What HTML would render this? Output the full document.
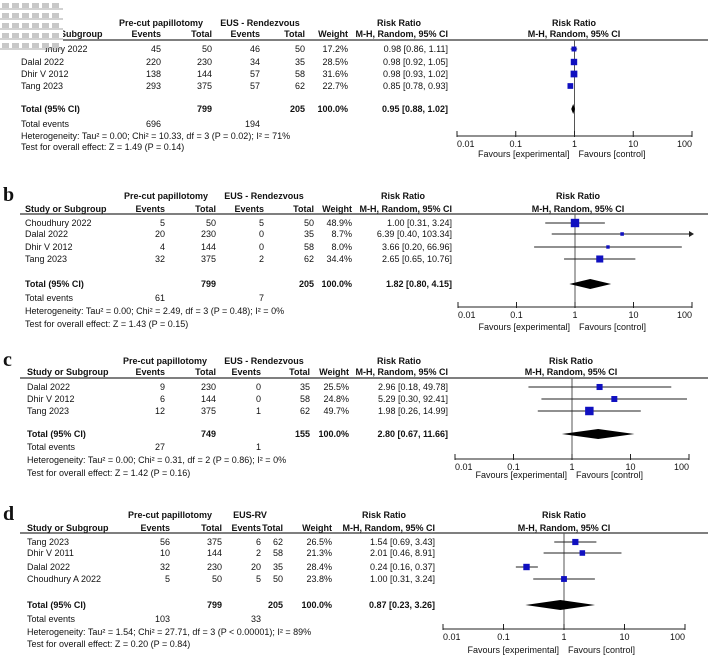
<!DOCTYPE html>
<html><head><meta charset="utf-8"><style>
html,body{margin:0;padding:0;background:#fff;}
svg{display:block;}
text{font-family:"Liberation Sans",Arial,sans-serif;font-size:9px;fill:#111;}
.lbl{font-family:"Liberation Serif",serif;font-size:20px;font-weight:bold;}
</style></head><body>
<svg id="chart" width="708" height="663" viewBox="0 0 708 663" xmlns="http://www.w3.org/2000/svg"></svg>
<script>
// Panel a data
const aStudies=["Choudhury 2022","Dalal 2022","Dhir V 2012","Tang 2023"];
const aEv1=[45,220,138,293]; const aTot1=[50,230,144,375];
const aEv2=[46,34,57,57]; const aTot2=[50,35,58,62];
const aW=[17.2,28.5,31.6,22.7];
const aEst=[0.98,0.98,0.98,0.85]; const aLo=[0.86,0.92,0.93,0.78]; const aHi=[1.11,1.05,1.02,0.93];
const aTotal=[0.95,0.88,1.02];
// Panel b data
const bStudies=["Choudhury 2022","Dalal 2022","Dhir V 2012","Tang 2023"];
const bEv1=[5,20,4,32]; const bTot1=[50,230,144,375];
const bEv2=[5,0,0,2]; const bTot2=[50,35,58,62];
const bW=[48.9,8.7,8.0,34.4];
const bEst=[1.00,6.39,3.66,2.65]; const bLo=[0.31,0.40,0.20,0.65]; const bHi=[3.24,103.34,66.96,10.76];
const bTotal=[1.82,0.80,4.15];
// Panel c data
const cStudies=["Dalal 2022","Dhir V 2012","Tang 2023"];
const cEv1=[9,6,12]; const cTot1=[230,144,375];
const cEv2=[0,0,1]; const cTot2=[35,58,62];
const cW=[25.5,24.8,49.7];
const cEst=[2.96,5.29,1.98]; const cLo=[0.18,0.30,0.26]; const cHi=[49.78,92.41,14.99];
const cTotal=[2.80,0.67,11.66];
// Panel d data
const dStudies=["Tang 2023","Dhir V 2011","Dalal 2022","Choudhury A 2022"];
const dEv1=[56,10,32,5]; const dTot1=[375,144,230,50];
const dEv2=[6,2,20,5]; const dTot2=[62,58,35,50];
const dW=[26.5,21.3,28.4,23.8];
const dEst=[1.54,2.01,0.24,1.00]; const dLo=[0.69,0.46,0.16,0.31]; const dHi=[3.43,8.91,0.37,3.24];
const dTotal=[0.87,0.23,3.26];
const tickVals=[0.01,0.1,1,10,100];
const tickLabels=["0.01","0.1","1","10","100"];

const NS="http://www.w3.org/2000/svg";
const svg=document.getElementById('chart');
function mk(tag,attrs,parent){const e=document.createElementNS(NS,tag);for(const k in attrs)e.setAttribute(k,attrs[k]);(parent||svg).appendChild(e);return e;}
function txt(p,x,y,s,anchor,bold,name){const e=mk('text',{x:x,y:y+3.2,'text-anchor':anchor||'start'},p);if(bold)e.setAttribute('font-weight','bold');e.textContent=s;


return e;}
const f2=v=>v.toFixed(2);

function panel(cfg,D){
  const g=mk('g',{});
  
  
  const C=cfg.cols;
  if(cfg.id!=='a'){const l=txt(g,3,cfg.h1+2,cfg.id,'start',false,'panel-letter');l.setAttribute('class','lbl');}
  txt(g,C.preC,cfg.h1,'Pre-cut papillotomy','middle',true,'group1-header');
  txt(g,C.eusC,cfg.h1,cfg.eus,'middle',true,'group2-header');
  txt(g,C.rr,cfg.h1,'Risk Ratio','middle',true,'risk-ratio-header');
  txt(g,C.pc,cfg.h1,'Risk Ratio','middle',true,'plot-header');
  txt(g,C.st,cfg.h2,'Study or Subgroup','start',true,'study-header');
  txt(g,C.e1,cfg.h2,'Events','end',true,'events1-header');
  txt(g,C.t1,cfg.h2,'Total','end',true,'total1-header');
  txt(g,C.e2,cfg.h2,'Events','end',true,'events2-header');
  txt(g,C.t2,cfg.h2,'Total','end',true,'total2-header');
  txt(g,C.w,cfg.h2,'Weight','end',true,'weight-header');
  txt(g,C.ci,cfg.h2,'M-H, Random, 95% CI','end',true,'ci-header');
  txt(g,C.pc,cfg.h2,'M-H, Random, 95% CI','middle',true,'plot-ci-header');
  mk('line',{x1:20,x2:708,y1:cfg.line,y2:cfg.line,stroke:'#333','stroke-width':1.2},g);
  const X=v=>cfg.ax0+(Math.log10(v)+2)/4*(cfg.ax1-cfg.ax0);
  mk('line',{x1:X(1),x2:X(1),y1:cfg.line,y2:cfg.axY,stroke:'#555','stroke-width':1},g);
  D.studies.forEach((s,i)=>{
    const y=cfg.rows[i];
    txt(g,C.st,y,s,'start',false,'study-name');
    txt(g,C.e1,y,String(D.ev1[i]),'end',false,'events1');
    txt(g,C.t1,y,String(D.tot1[i]),'end',false,'total1');
    txt(g,C.e2,y,String(D.ev2[i]),'end',false,'events2');
    txt(g,C.t2,y,String(D.tot2[i]),'end',false,'total2');
    txt(g,C.w,y,D.w[i].toFixed(1)+'%','end',false,'weight');
    txt(g,C.ci,y,f2(D.est[i])+' ['+f2(D.lo[i])+', '+f2(D.hi[i])+']','end',false,'risk-ratio-ci');
    const hiC=Math.min(D.hi[i],100);
    const ln=mk('line',{x1:X(D.lo[i]),x2:X(hiC),y1:y,y2:y,stroke:'#222','stroke-width':1},g);
    
    
    if(D.hi[i]>100){const ax=X(100);const ar=mk('path',{d:`M${ax+2},${y} L${ax-3},${y-3} L${ax-3},${y+3}Z`,fill:'#222'},g);
      
      }
    const sz=1.2*Math.sqrt(D.w[i]);
    const r=mk('rect',{x:X(D.est[i])-sz/2,y:y-sz/2,width:sz,height:sz,fill:'#1010c0'},g);
    
    
  });
  const ty=cfg.total;
  txt(g,C.st,ty,'Total (95% CI)','start',true,'total-label');
  txt(g,C.t1,ty,String(D.tot1.reduce((a,b)=>a+b,0)),'end',true,'total1-sum');
  txt(g,C.t2,ty,String(D.tot2.reduce((a,b)=>a+b,0)),'end',true,'total2-sum');
  txt(g,C.w,ty,'100.0%','end',true,'total-weight');
  txt(g,C.ci,ty,f2(D.total[0])+' ['+f2(D.total[1])+', '+f2(D.total[2])+']','end',true,'total-ci');
  const dm=mk('path',{d:`M${X(D.total[1])},${ty} L${X(D.total[0])},${ty-5} L${X(D.total[2])},${ty} L${X(D.total[0])},${ty+5}Z`,fill:'#000'},g);
  
  
  txt(g,C.st,cfg.te,'Total events','start',false,'total-events-label');
  txt(g,C.e1,cfg.te,String(D.ev1.reduce((a,b)=>a+b,0)),'end',false,'total-events1');
  txt(g,C.e2,cfg.te,String(D.ev2.reduce((a,b)=>a+b,0)),'end',false,'total-events2');
  txt(g,C.st,cfg.het,cfg.hetText,'start',false,'heterogeneity');
  txt(g,C.st,cfg.test,cfg.testText,'start',false,'overall-effect');
  mk('line',{x1:cfg.ax0,x2:cfg.ax1,y1:cfg.axY,y2:cfg.axY,stroke:'#222','stroke-width':1},g);
  tickVals.forEach((v,i)=>{
    const x=X(v);
    const tk=mk('line',{x1:x,x2:x,y1:cfg.axY-5,y2:cfg.axY+1,stroke:'#222','stroke-width':1},g);
    
    
    const an=i===0?'start':(i===tickVals.length-1?'end':'middle');
    txt(g,x,cfg.axY+8,tickLabels[i],an,false,'tick-label');
  });
  txt(g,X(1)-5,cfg.fav,'Favours [experimental]','end',false,'favours-experimental');
  txt(g,X(1)+4,cfg.fav,'Favours [control]','start',false,'favours-control');
}

panel({id:'a',eus:'EUS - Rendezvous',h1:23,h2:34,line:40,rows:[49,62,74,86],total:109,te:124,het:136,test:147,axY:136,ax0:457,ax1:692,fav:154,
  cols:{st:21,e1:161,t1:212,e2:260,t2:305,w:348,ci:448,rr:399,pc:574,preC:161,eusC:260},
  hetText:'Heterogeneity: Tau² = 0.00; Chi² = 10.33, df = 3 (P = 0.02); I² = 71%',testText:'Test for overall effect: Z = 1.49 (P = 0.14)'},
  {studies:aStudies,ev1:aEv1,tot1:aTot1,ev2:aEv2,tot2:aTot2,w:aW,est:aEst,lo:aLo,hi:aHi,total:aTotal});
panel({id:'b',eus:'EUS - Rendezvous',h1:196,h2:209,line:214,rows:[223,234,247,259],total:284,te:298,het:311,test:324,axY:307,ax0:458,ax1:692,fav:327,
  cols:{st:25,e1:165,t1:216,e2:264,t2:314,w:352,ci:452,rr:403,pc:578,preC:166,eusC:264},
  hetText:'Heterogeneity: Tau² = 0.00; Chi² = 2.49, df = 3 (P = 0.48); I² = 0%',testText:'Test for overall effect: Z = 1.43 (P = 0.15)'},
  {studies:bStudies,ev1:bEv1,tot1:bTot1,ev2:bEv2,tot2:bTot2,w:bW,est:bEst,lo:bLo,hi:bHi,total:bTotal});
panel({id:'c',eus:'EUS - Rendezvous',h1:361,h2:372,line:378,rows:[387,399,411],total:434,te:447,het:460,test:473,axY:459,ax0:455,ax1:689,fav:475,
  cols:{st:27,e1:165,t1:216,e2:261,t2:310,w:349,ci:448,rr:399,pc:571,preC:165,eusC:264},
  hetText:'Heterogeneity: Tau² = 0.00; Chi² = 0.31, df = 2 (P = 0.86); I² = 0%',testText:'Test for overall effect: Z = 1.42 (P = 0.16)'},
  {studies:cStudies,ev1:cEv1,tot1:cTot1,ev2:cEv2,tot2:cTot2,w:cW,est:cEst,lo:cLo,hi:cHi,total:cTotal});
panel({id:'d',eus:'EUS-RV',h1:515,h2:528,line:533,rows:[542,553,567,579],total:605,te:619,het:632,test:644,axY:629,ax0:443,ax1:685,fav:650,
  cols:{st:27,e1:170,t1:222,e2:261,t2:283,w:332,ci:435,rr:384,pc:564,preC:170,eusC:250},
  hetText:'Heterogeneity: Tau² = 1.54; Chi² = 27.71, df = 3 (P < 0.00001); I² = 89%',testText:'Test for overall effect: Z = 0.20 (P = 0.84)'},
  {studies:dStudies,ev1:dEv1,tot1:dTot1,ev2:dEv2,tot2:dTot2,w:dW,est:dEst,lo:dLo,hi:dHi,total:dTotal});

const ov=mk('g',{});


mk('rect',{x:0,y:0,width:63,height:44,fill:'#fff'},ov);
mk('rect',{x:0,y:44,width:45,height:14,fill:'#fff'},ov);
for(let r=0;r<5;r++){for(let c=0;c<6;c++){mk('rect',{x:2+c*10,y:3+r*10,width:7,height:5,fill:'#c8c8c8'},ov);}
  mk('line',{x1:0,x2:63,y1:9+r*10,y2:9+r*10,stroke:'#888','stroke-width':0.7},ov);}
</script>
</body></html>
